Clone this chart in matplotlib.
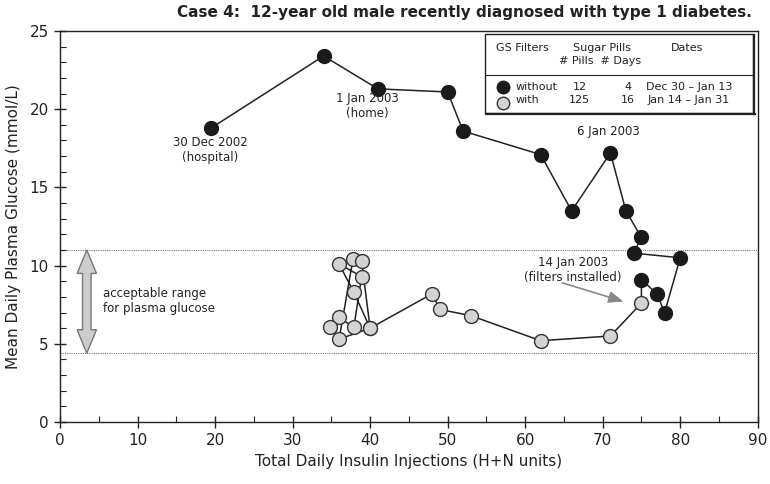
import matplotlib
matplotlib.use("Agg")
import matplotlib.pyplot as plt
from matplotlib.ticker import MultipleLocator
from matplotlib.lines import Line2D
from matplotlib.patches import Polygon, Rectangle

plt.rcParams['font.family'] = 'DejaVu Sans'

# Daily values: total insulin (H+N units) vs mean plasma glucose (mmol/L)
insulin_without = [19.5, 34, 41, 50, 52, 62, 66, 71, 73, 75, 74, 80, 78, 77, 75]
glucose_without = [18.8, 23.4, 21.3, 21.1, 18.6, 17.1, 13.5, 17.2, 13.5, 11.8, 10.8, 10.5, 7.0, 8.2, 9.1]

insulin_with = [75, 71, 62, 53, 49, 48, 40, 36, 37.8, 38.9, 40, 37.9, 36, 38.9, 37.9, 36, 34.8]
glucose_with = [7.6, 5.5, 5.2, 6.8, 7.2, 8.2, 6.0, 5.3, 10.45, 10.3, 6.0, 8.3, 10.1, 9.3, 6.05, 6.7, 6.05]

range_low, range_high = 4.4, 11.0

legend_rows = [
    ('without', '12', '4', 'Dec 30 \u2013 Jan 13'),
    ('with', '125', '16', 'Jan 14 \u2013 Jan 31'),
]

ink = '#222222'
dark_fill = '#1a1a1a'
light_fill = '#d4d4d4'

fig = plt.figure(figsize=(7.7, 4.84), dpi=100)
ax = fig.add_axes([0.078, 0.128, 0.906, 0.808])
ax.set_xlim(0, 90)
ax.set_ylim(0, 25)

# acceptable range lines
for yv in (range_low, range_high):
    ax.axhline(yv, color='#777777', lw=0.8, ls=(0, (1, 1)), zorder=1)

# connecting path (chronological)
ax.plot(insulin_without + insulin_with[:1], glucose_without + glucose_with[:1],
        color=ink, lw=1.1, zorder=2)
ax.plot(insulin_with, glucose_with, color=ink, lw=1.1, zorder=2)
ax.plot(insulin_without, glucose_without, 'o', ms=10, mfc=dark_fill,
        mec=dark_fill, zorder=3)
ax.plot(insulin_with, glucose_with, 'o', ms=10, mfc=light_fill,
        mec='#333333', mew=1.0, zorder=3)

# double-headed arrow for the acceptable range
ax_x, shaft, head, head_len = 3.45, 0.55, 1.25, 1.5
arrow_pts = [
    (ax_x, range_high),
    (ax_x + head, range_high - head_len),
    (ax_x + shaft, range_high - head_len),
    (ax_x + shaft, range_low + head_len),
    (ax_x + head, range_low + head_len),
    (ax_x, range_low),
    (ax_x - head, range_low + head_len),
    (ax_x - shaft, range_low + head_len),
    (ax_x - shaft, range_high - head_len),
    (ax_x - head, range_high - head_len),
]
ax.add_patch(Polygon(arrow_pts, closed=True, fc='#cccccc', ec='#777777', lw=1.0, zorder=2))
ax.text(5.6, 7.75, 'acceptable range\nfor plasma glucose', ha='left', va='center',
        fontsize=8.5, color=ink, linespacing=1.25)

# annotations
ax.text(19.4, 18.3, '30 Dec 2002\n(hospital)', ha='center', va='top', fontsize=8.5,
        color=ink, linespacing=1.2)
ax.text(39.6, 21.1, '1 Jan 2003\n(home)', ha='center', va='top', fontsize=8.5,
        color=ink, linespacing=1.2)
ax.text(70.8, 18.55, '6 Jan 2003', ha='center', va='center', fontsize=8.5,
        color=ink)
ax.text(66.2, 10.6, '14 Jan 2003\n(filters installed)', ha='center', va='top',
        fontsize=8.5, color=ink, linespacing=1.2)
ax.annotate('', xy=(72.7, 7.7), xytext=(64.8, 8.9),
            arrowprops=dict(arrowstyle='-|>,head_width=0.35,head_length=0.9',
                            color='#888888', lw=1.2, shrinkA=0, shrinkB=0))


# legend box, positioned in pixel-like axes fractions
def fx(px):
    return (px - 60) / 698.0


def fy(py):
    return (422 - py) / 391.0


ax.add_patch(Rectangle((fx(485), fy(113)), fx(753) - fx(485), fy(34) - fy(113),
                       transform=ax.transAxes, fc='white', ec=ink, lw=1.0, zorder=5))
ax.add_line(Line2D([fx(486), fx(752)], [fy(75), fy(75)], transform=ax.transAxes,
                   color=ink, lw=0.8, zorder=6))
ax.add_line(Line2D([fx(754), fx(754)], [fy(114), fy(35)], transform=ax.transAxes,
                   color=ink, lw=1.6, zorder=6))
ax.add_line(Line2D([fx(486), fx(755)], [fy(114), fy(114)], transform=ax.transAxes,
                   color=ink, lw=1.6, zorder=6))
lk = dict(transform=ax.transAxes, fontsize=8, color=ink, zorder=7)
ax.text(fx(523), fy(48), 'GS Filters', ha='center', va='center', **lk)
ax.text(fx(602), fy(48), 'Sugar Pills', ha='center', va='center', **lk)
ax.text(fx(600), fy(61), '# Pills  # Days', ha='center', va='center', **lk)
ax.text(fx(687), fy(48), 'Dates', ha='center', va='center', **lk)
row_y = [87, 100]
marker_y = [87, 103]
marker_style = [(dark_fill, dark_fill), (light_fill, '#333333')]
for (lab, pills, days, dates), py, my, (fc, ec) in zip(legend_rows, row_y, marker_y, marker_style):
    ax.plot([fx(503)], [fy(my)], 'o', ms=9, mfc=fc, mec=ec, transform=ax.transAxes,
            zorder=7, clip_on=False)
    ax.text(fx(516), fy(py), lab, ha='left', va='center', **lk)
    ax.text(fx(580), fy(py), pills, ha='center', va='center', **lk)
    ax.text(fx(628), fy(py), days, ha='center', va='center', **lk)
    ax.text(fx(689), fy(py), dates, ha='center', va='center', **lk)

# axes styling
ax.xaxis.set_major_locator(MultipleLocator(10))
ax.xaxis.set_minor_locator(MultipleLocator(5))
ax.yaxis.set_major_locator(MultipleLocator(5))
ax.yaxis.set_minor_locator(MultipleLocator(1))
ax.tick_params(which='major', direction='inout', length=9, width=1.0,
               labelsize=11, colors=ink)
ax.tick_params(which='minor', direction='in', length=4, width=0.8, colors=ink)
for s in ax.spines.values():
    s.set_linewidth(1.0)
    s.set_color(ink)

ax.set_xlabel('Total Daily Insulin Injections (H+N units)', fontsize=11, color=ink,
              labelpad=4)
ax.set_ylabel('Mean Daily Plasma Glucose (mmol/L)', fontsize=11, color=ink,
              labelpad=6)

fig.text(0.976, 0.975, 'Case 4:  12-year old male recently diagnosed with type 1 diabetes.',
         ha='right', va='center', fontsize=11, fontweight='bold', color=ink)

fig.savefig('out.png', dpi=100)
